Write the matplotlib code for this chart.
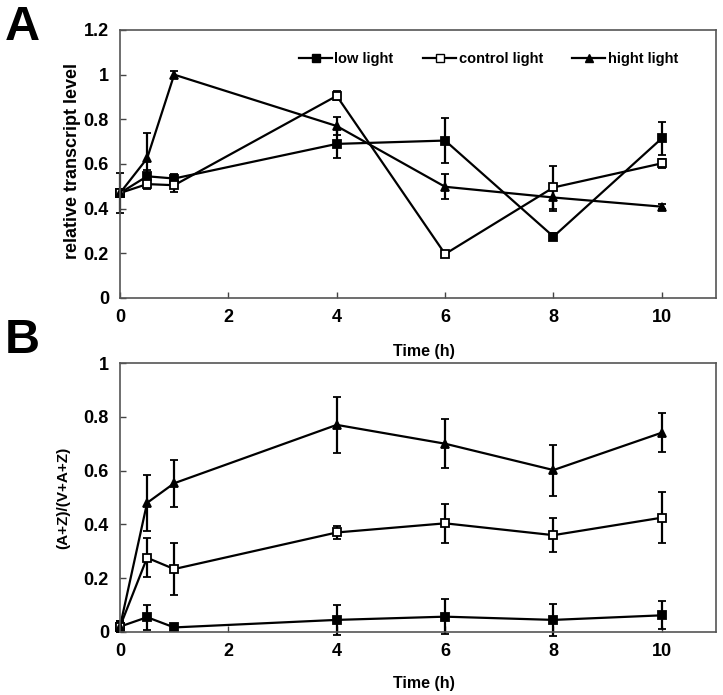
import numpy as np
import matplotlib.pyplot as plt
from matplotlib.lines import Line2D

plt.rcParams['font.family'] = ['Liberation Sans', 'DejaVu Sans']
plt.rcParams['font.weight'] = 'bold'

time = [0, 0.5, 1, 4, 6, 8, 10]

# panel A: relative transcript level
a_low = [0.47, 0.545, 0.535, 0.69, 0.705, 0.275, 0.715]
a_low_err = [0.09, 0.03, 0.02, 0.065, 0.10, 0.015, 0.073]
a_ctrl = [0.47, 0.51, 0.505, 0.905, 0.197, 0.495, 0.603]
a_ctrl_err = [0.02, 0.02, 0.03, 0.02, 0.01, 0.095, 0.02]
a_high = [0.47, 0.625, 1.0, 0.77, 0.498, 0.45, 0.409]
a_high_err = [0.02, 0.115, 0.015, 0.04, 0.056, 0.06, 0.01]

# panel B: (A+Z)/(V+A+Z)
b_low = [0.02, 0.055, 0.017, 0.045, 0.057, 0.045, 0.062]
b_low_err = [0.02, 0.046, 0.005, 0.055, 0.065, 0.06, 0.052]
b_ctrl = [0.02, 0.276, 0.234, 0.37, 0.404, 0.36, 0.425]
b_ctrl_err = [0.02, 0.073, 0.095, 0.025, 0.073, 0.062, 0.095]
b_high = [0.02, 0.48, 0.553, 0.77, 0.70, 0.602, 0.741]
b_high_err = [0.02, 0.105, 0.088, 0.103, 0.09, 0.095, 0.072]

labels = ['low light', 'control light', 'hight light']
styles = [dict(marker='s', mfc='black'),
          dict(marker='s', mfc='white'),
          dict(marker='^', mfc='black')]

W, H = 723, 695
fig = plt.figure(figsize=(W / 100, H / 100), dpi=100)
axA = fig.add_axes([120 / W, 1 - 298 / H, 596 / W, 268 / H])
axB = fig.add_axes([120 / W, 1 - 632 / H, 596 / W, 269 / H])


def draw(ax, series, errs):
    for y, e, st in zip(series, errs, styles):
        ax.errorbar(time, y, yerr=e, color='black', lw=1.6, ms=6,
                    mec='black', mew=1.3, capsize=3, elinewidth=1.6,
                    capthick=1.6, clip_on=False, **st)
    ax.set_xlim(0, 11)
    ax.set_xticks([0, 2, 4, 6, 8, 10])
    ax.tick_params(direction='in', length=4, width=1, labelsize=13, pad=8,
                   color='#444444')
    for s in ax.spines.values():
        s.set_color('#555555')
        s.set_linewidth(1.2)
    ax.set_xlabel('Time (h)', fontsize=11.5, fontweight='bold')


draw(axA, [a_low, a_ctrl, a_high], [a_low_err, a_ctrl_err, a_high_err])
axA.set_ylim(0, 1.2)
axA.set_yticks([0, 0.2, 0.4, 0.6, 0.8, 1.0, 1.2])
axA.set_yticklabels(['0', '0.2', '0.4', '0.6', '0.8', '1', '1.2'])
axA.set_ylabel('relative transcript level', fontsize=13, fontweight='bold')
axA.yaxis.set_label_coords(-0.066, 0.51)
axA.xaxis.set_label_coords(0.51, -0.17)
handles = [Line2D([], [], color='black', lw=1.6, ms=6, mec='black', **st)
           for st in styles]
leg = axA.legend(handles, labels, loc='upper center',
                 bbox_to_anchor=(0.618, 0.968), ncol=3, frameon=False,
                 prop={'size': 10.5, 'weight': 'heavy'},
                 handlelength=2.3, handletextpad=0.15, columnspacing=2.0)
for t in leg.get_texts():
    t.set_fontweight('heavy')

draw(axB, [b_low, b_ctrl, b_high], [b_low_err, b_ctrl_err, b_high_err])
axB.set_ylim(0, 1)
axB.set_yticks([0, 0.2, 0.4, 0.6, 0.8, 1.0])
axB.set_yticklabels(['0', '0.2', '0.4', '0.6', '0.8', '1'])
axB.set_ylabel('(A+Z)/(V+A+Z)', fontsize=11, fontweight='bold')
axB.yaxis.set_label_coords(-0.083, 0.5)
axB.xaxis.set_label_coords(0.51, -0.165)

fig.text(5 / W, 1 - 40 / H, 'A', fontsize=35, fontweight='bold')
fig.text(5 / W, 1 - 353 / H, 'B', fontsize=35, fontweight='bold')

fig.savefig('out.png', dpi=100)
